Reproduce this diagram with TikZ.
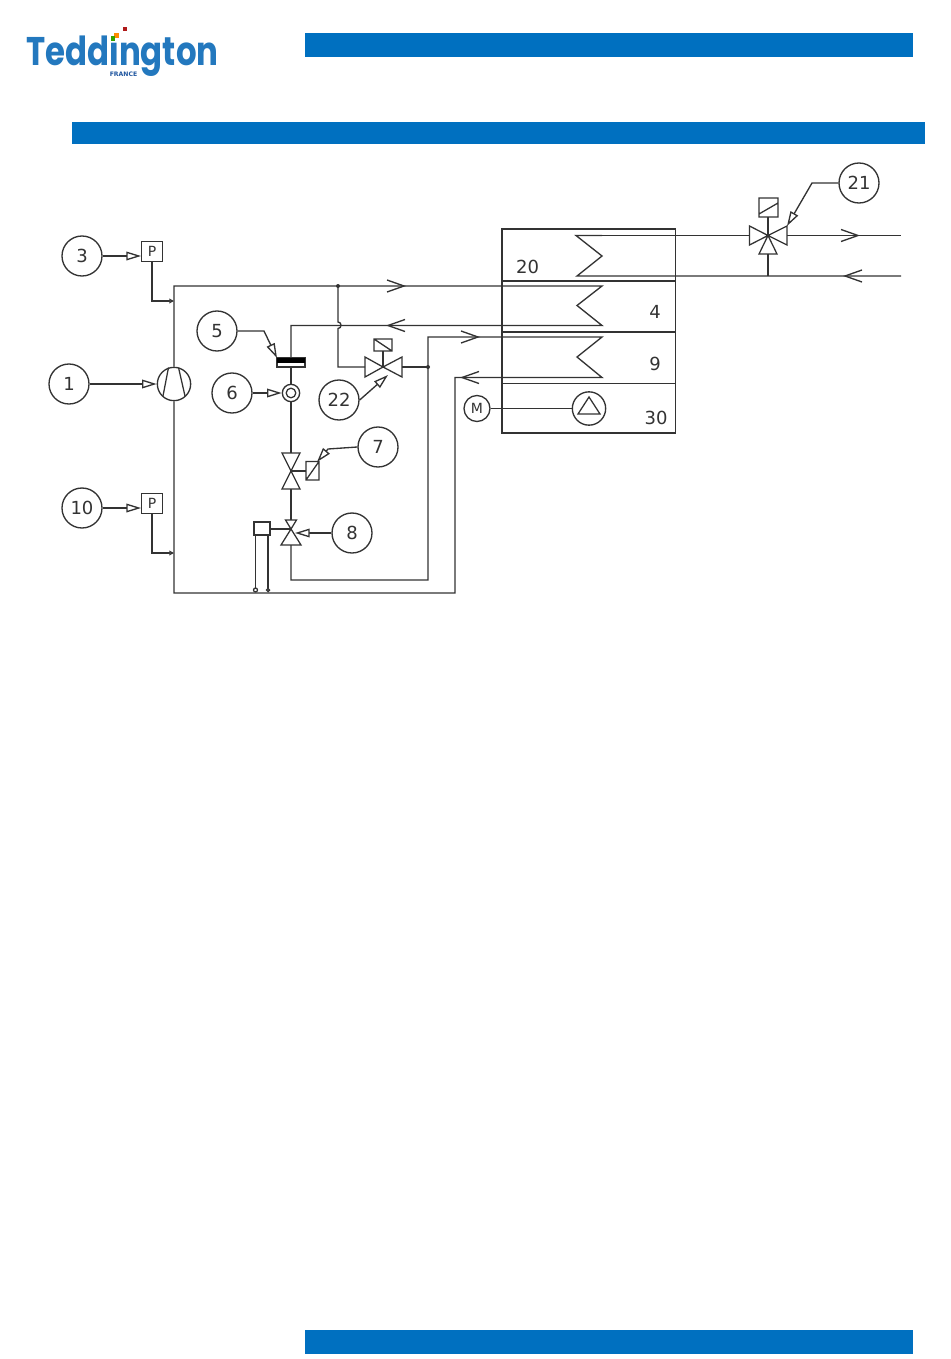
\documentclass[tikz,border=0pt]{standalone}
\usepackage{fontspec}
\setmainfont{DejaVu Sans}
\newfontfamily\logofont{Poppins}
\usetikzlibrary{arrows.meta,calc}
\definecolor{barblue}{HTML}{0070C0}
\definecolor{logoblue}{HTML}{2378BE}
\definecolor{logodark}{HTML}{1F559F}
\definecolor{ink}{HTML}{333333}
\tikzset{
  ln/.style={draw=ink,line width=1pt,line join=miter},
  thin ln/.style={draw=ink,line width=0.95pt},
  tag/.style={circle,draw=ink,line width=1pt,minimum size=30pt,inner sep=0pt,font=\fontsize{13.5pt}{16pt}\selectfont,text=ink},
  pbox/.style={rectangle,draw=ink,line width=0.95pt,minimum size=15.5pt,inner sep=0pt,font=\fontsize{10.5pt}{12pt}\selectfont,text=ink},
  boxlabel/.style={inner sep=0pt,font=\fontsize{13.5pt}{16pt}\selectfont,text=ink},
  ptr/.style={ln,-{Triangle[open,fill=white,length=11pt,width=6.5pt]}},
  sensor/.style={ln,-{Triangle[open,fill=white,length=3.5pt,width=3.5pt]}},
  bar/.style={fill=barblue,draw=none},
  pics/chevr/.style={code={\draw[ln] (-17,-6) -- (0,0) -- (-17,6);}},
  pics/chevl/.style={code={\draw[ln] (17,-6) -- (0,0) -- (17,6);}},
}
\begin{document}
\begin{tikzpicture}[x=0.75pt,y=-0.75pt]
\useasboundingbox (0,0) rectangle (950,1359);
\fill[white] (0,0) rectangle (950,1359);
% bars
\fill[bar] (305,33) rectangle (913,57);
\fill[bar] (72,122) rectangle (925,144);
\fill[bar] (305,1330) rectangle (913,1354);
% logo
\node[anchor=base,inner sep=0pt,text=logoblue,xscale=0.81] (logo) at (122.5,66) {\logofont\bfseries\fontsize{30pt}{32pt}\selectfont Teddington};
\node[inner sep=0pt,text=logodark,font=\bfseries\fontsize{4.6pt}{5pt}\selectfont] (france) at (123.5,74.5) {FRANCE};
\fill[white] (107,27) rectangle (120,41);
\fill[red!65!black!90] (123,27) rectangle (127,31);
\fill[orange!90!yellow] (113.5,33) rectangle (118.5,38);
\fill[green!55!black!80!yellow] (110.5,36.5) rectangle (115,41.5);
% tag circles
\node[tag] (c3) at (82,256) {3};
\node[tag] (c1) at (69,384) {1};
\node[tag] (c10) at (82,508) {10};
\node[tag] (c5) at (217,331) {5};
\node[tag] (c6) at (232,393) {6};
\node[tag] (c22) at (339,400) {22};
\node[tag] (c7) at (378,447) {7};
\node[tag] (c8) at (352,533) {8};
\node[tag] (c21) at (859,183) {21};
% pressure boxes
\node[pbox] (p3) at (152,251.5) {P};
\node[pbox] (p10) at (152,503.5) {P};
% compressor
\node[circle,draw=ink,line width=1pt,minimum size=25pt,inner sep=0pt] (comp) at (174,384) {};
\draw[thin ln] (168.5,367.5) -- (163,396) (178.5,367.5) -- (185,396);
% tank
\coordinate (boxTL) at (502,229);
\coordinate (boxBR) at (675.5,433);
\draw[ln] (boxTL) rectangle (boxBR);
\draw[ln] (502,281) -- (675.5,281) (502,332) -- (675.5,332) (502,383.5) -- (675.5,383.5);
\node[boxlabel] (l20) at (527.5,267) {20};
\node[boxlabel] (l4) at (655,312) {4};
\node[boxlabel] (l9) at (655,364) {9};
\node[boxlabel] (l30) at (656,418) {30};
% fan
\node[circle,draw=ink,line width=1pt,minimum size=19.5pt,inner sep=0pt,font=\fontsize{10.5pt}{12pt}\selectfont,text=ink] (motor) at (477,408.5) {M};
\node[circle,draw=ink,line width=1pt,minimum size=25pt,inner sep=0pt] (fan) at (589,408.5) {};
\draw[thin ln] (589,397) -- (600,414) -- (578,414) -- cycle;
\draw[ln] (motor) -- (fan);
% junctions
\coordinate (topL) at (174,286);
\coordinate (j1) at (338,286);
\coordinate (j2) at (428,367);
\coordinate (botL) at (174,593);
\coordinate (botR) at (455,593);
\coordinate (liqL) at (291,325.5);
% main discharge, return loop
\draw[ln] (comp.north) -- (topL) -- (602,286) -- (577,305.5) -- (602,325.5) -- (liqL) -- (291,358);
\draw[ln] (comp.south) -- (botL) -- (botR) -- (455,377.5) -- (602,377.5) -- (577,357) -- (602,337) -- (428,337) -- (j2) -- (428,580) -- (291,580) -- (291,545);
% hot gas bypass with hop
\draw[ln] (j1) -- (338,322) .. controls (342,322) and (342,328.5) .. (338,328.5) -- (338,367) -- (365,367);
\draw[ln] (402,367) -- (j2);
\fill[ink] (j1) circle (2) (j2) circle (2);
% valve 22
\coordinate (v22) at (383,367);
\draw[thin ln] (v22) -- (365,357) -- (365,377) -- cycle (v22) -- (402,357) -- (402,377) -- cycle;
\draw[thin ln] (v22) -- (383,351);
\draw[thin ln] (374,339) rectangle (392,351) (374,339) -- (392,351);
% drier
\fill[white] (277,358) rectangle (305,367);
\draw[thin ln] (277,358) rectangle (305,367);
\fill[black] (277,358) rectangle (305,363);
% sight glass
\node[circle,draw=ink,line width=1pt,minimum size=13pt,inner sep=0pt] (sg) at (291,393) {};
\draw[thin ln] (sg) circle (4.8);
\draw[ln] (291,367) -- (sg.north);
\draw[ln] (sg.south) -- (291,453);
% valve 7
\coordinate (v7) at (291,471);
\draw[thin ln] (v7) -- (282,453) -- (300,453) -- cycle (v7) -- (282,489) -- (300,489) -- cycle;
\draw[thin ln] (v7) -- (306,471);
\draw[thin ln] (306,461.5) rectangle (319,480) (306,480) -- (319,461.5);
\draw[ln] (291,489) -- (291,520);
% valve 8
\coordinate (v8) at (291,529);
\draw[thin ln] (v8) -- (285.5,520) -- (296.5,520) -- cycle (v8) -- (281,545) -- (301,545) -- cycle;
\node[rectangle,draw=ink,line width=0.95pt,minimum width=12pt,minimum height=9.8pt,inner sep=0pt] (bulb) at (262,528.5) {};
\draw[thin ln] (bulb.east |- v8) -- (v8);
\coordinate (cap1) at (255.5,590);
\coordinate (cap2) at (268,590);
\draw[thin ln] (cap1 |- bulb.south) -- (cap1);
\draw[thin ln] (cap2 |- bulb.south) -- (cap2);
\draw[thin ln,fill=white] (cap1) circle (2);
\draw[thin ln,fill=white] (cap2) circle (1.6);
% valve 21
\coordinate (v21) at (768,235.5);
\draw[ln] (602,235.5) -- (576,235.5) -- (602,256) -- (577,276) -- (901,276);
\draw[ln] (602,235.5) -- (749.5,235.5);
\draw[ln] (787,235.5) -- (901,235.5);
\draw[thin ln] (v21) -- (749.5,226) -- (749.5,245) -- cycle (v21) -- (787,226) -- (787,245) -- cycle (v21) -- (759,254) -- (777,254) -- cycle;
\draw[ln] (768,254) -- (768,276);
\draw[thin ln] (v21) -- (768,217);
\draw[thin ln] (759,198) rectangle (778,217) (759,214) -- (778,203);
% chevrons
\pic at (404,286) {chevr};
\pic at (388,325.5) {chevl};
\pic at (478,337) {chevr};
\pic at (462,377.5) {chevl};
\pic at (858,235.5) {chevr};
\pic at (845,276) {chevl};
% pointers
\draw[ptr] (c3.east) -- (c3.east -| p3.west);
\draw[ptr] (c10.east) -- (c10.east -| p10.west);
\draw[ptr] (c1.east) -- (c1.east -| comp.west);
\draw[ptr] (c6.east) -- (c6.east -| sg.west);
\draw[ptr] (c8.west) -- (295,533);
\draw[ptr] (c5.east) -- (264,331) -- (277,358);
\draw[ptr] (c22.east) ++(0,0) -- (388,375);
\draw[ptr] (c7.west) -- (328,449) -- (317,462);
\draw[ptr] (c21.west) -- (812,183) -- (787,226);
% pressure tappings
\draw[sensor] (p3.south) -- (152,301) -- (174,301);
\draw[sensor] (p10.south) -- (152,553) -- (174,553);
\end{tikzpicture}
\end{document}
